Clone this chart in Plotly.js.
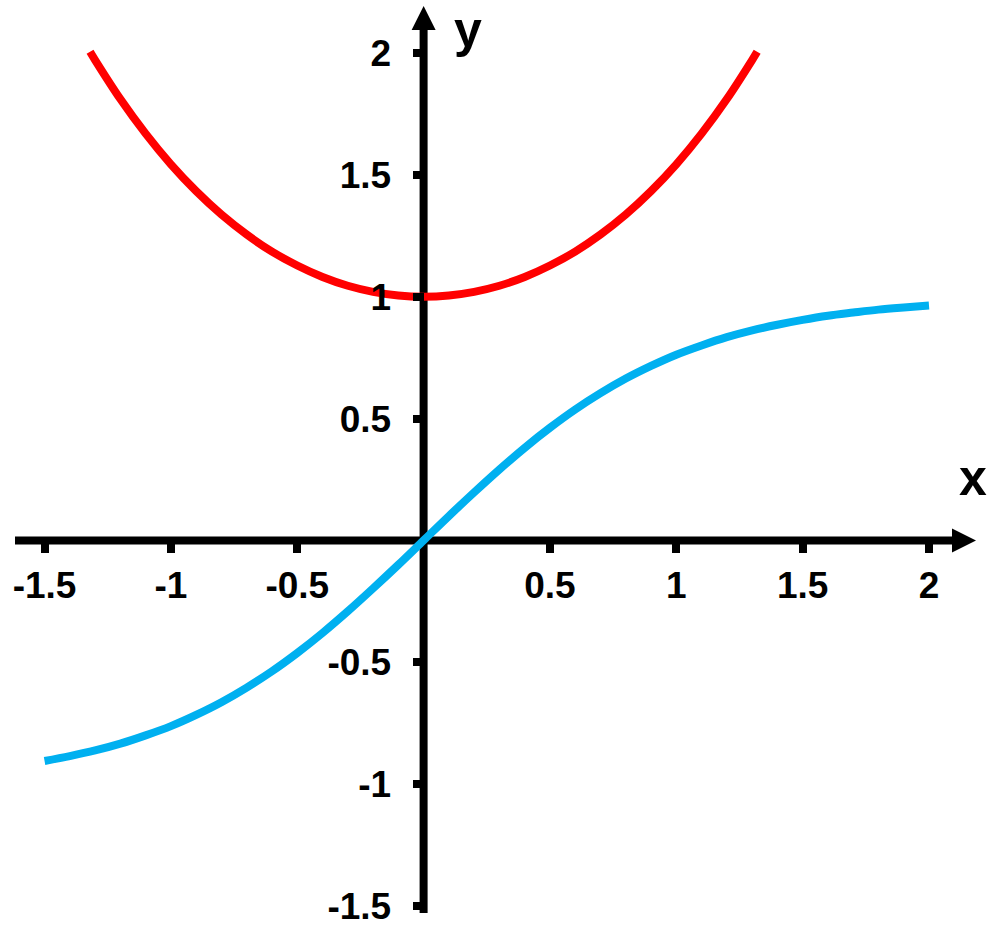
<!DOCTYPE html>
<html>
<head>
<meta charset="utf-8">
<script src="https://cdn.plot.ly/plotly-3.0.1.min.js"></script>
<style>html,body{margin:0;padding:0;background:#fff;}#chart{width:1000px;height:926px;}</style>
</head>
<body>
<div id="chart"></div>
<script>
// Red curve
const redX = [-1.32,-1.3,-1.2,-1.1,-1.0,-0.9,-0.8,-0.7,-0.6,-0.5,-0.4,-0.3,-0.2,-0.1,0,0.1,0.2,0.3,0.4,0.5,0.6,0.7,0.8,0.9,1.0,1.1,1.2,1.3,1.32];
const redY = [2.005,1.971,1.811,1.669,1.543,1.433,1.337,1.255,1.185,1.128,1.081,1.045,1.020,1.005,1.000,1.005,1.020,1.045,1.081,1.128,1.185,1.255,1.337,1.433,1.543,1.669,1.811,1.971,2.005];
// Blue curve
const blueX = [-1.5,-1.4,-1.3,-1.2,-1.1,-1.0,-0.9,-0.8,-0.7,-0.6,-0.5,-0.4,-0.3,-0.2,-0.1,0,0.1,0.2,0.3,0.4,0.5,0.6,0.7,0.8,0.9,1.0,1.1,1.2,1.3,1.4,1.5,1.6,1.7,1.8,1.9,2.0];
const blueY = [-0.905,-0.885,-0.862,-0.834,-0.800,-0.762,-0.716,-0.664,-0.604,-0.537,-0.462,-0.380,-0.291,-0.197,-0.100,0,0.100,0.197,0.291,0.380,0.462,0.537,0.604,0.664,0.716,0.762,0.800,0.834,0.862,0.885,0.905,0.922,0.935,0.947,0.956,0.964];
// Tick labels
const xTickVals = [-1.5,-1,-0.5,0.5,1,1.5,2];
const xTickText = ['-1.5','-1','-0.5','0.5','1','1.5','2'];
const yTickVals = [-1.5,-1,-0.5,0.5,1,1.5,2];
const yTickText = ['-1.5','-1','-0.5','0.5','1','1.5','2'];

const W = 1000, H = 926;
const X0PX = 423.6, XUNIT = 252.7, Y0PX = 540.4, YUNIT = 243.7;
const X = px => (px - X0PX) / XUNIT;
const Y = py => (Y0PX - py) / YUNIT;

const font = {family: 'Liberation Sans, Arial, sans-serif', size: 37, color: '#000', weight: 700};

const traces = [
  {x: redX, y: redY, mode: 'lines', line: {color: '#ff0000', width: 8, shape: 'spline', smoothing: 1}, hoverinfo: 'skip'},
  {x: blueX, y: blueY, mode: 'lines', line: {color: '#00b0f0', width: 8, shape: 'spline', smoothing: 1}, hoverinfo: 'skip'}
];

const shapes = [
  {type: 'line', xref: 'x', yref: 'y', x0: X(15), x1: X(955), y0: 0, y1: 0, line: {color: '#000', width: 8}, layer: 'below'},
  {type: 'line', xref: 'x', yref: 'y', x0: 0, x1: 0, y0: Y(913), y1: Y(28), line: {color: '#000', width: 8}, layer: 'below'},
  {type: 'path', xref: 'x', yref: 'y', layer: 'below', fillcolor: '#000', line: {width: 0},
   path: `M${X(952)},${Y(Y0PX-12)} L${X(976)},0 L${X(952)},${Y(Y0PX+12)} Z`},
  {type: 'path', xref: 'x', yref: 'y', layer: 'below', fillcolor: '#000', line: {width: 0},
   path: `M${X(X0PX-12)},${Y(30)} L0,${Y(6)} L${X(X0PX+12)},${Y(30)} Z`}
];

const layout = {
  width: W, height: H,
  margin: {l: 0, r: 0, t: 0, b: 0, pad: 0},
  paper_bgcolor: '#fff', plot_bgcolor: '#fff',
  showlegend: false,
  xaxis: {range: [X(0), X(W)], anchor: 'free', position: (H - Y0PX) / H,
    showgrid: false, zeroline: false, showline: false,
    ticks: 'outside', ticklen: 12, tickwidth: 8, tickcolor: '#000',
    tickvals: xTickVals, ticktext: xTickText, tickfont: font, ticklabelstandoff: 0,
    ticklabeloverflow: 'allow'},
  yaxis: {range: [Y(H), Y(0)], anchor: 'free', position: X0PX / W,
    showgrid: false, zeroline: false, showline: false,
    ticks: 'outside', ticklen: 11, tickwidth: 8, tickcolor: '#000',
    tickvals: yTickVals, ticktext: yTickText, tickfont: font, ticklabelstandoff: 14,
    ticklabeloverflow: 'allow'},
  shapes: shapes,
  annotations: [
    {xref: 'paper', yref: 'paper', x: 468 / W, y: 1 - 30 / H, text: 'y', showarrow: false,
     font: {family: 'Liberation Sans, Arial, sans-serif', size: 50, color: '#000', weight: 700}, xanchor: 'center', yanchor: 'middle'},
    {xref: 'paper', yref: 'paper', x: 973 / W, y: 1 - 478 / H, text: 'x', showarrow: false,
     font: {family: 'Liberation Sans, Arial, sans-serif', size: 50, color: '#000', weight: 700}, xanchor: 'center', yanchor: 'middle'}
  ]
};

Plotly.newPlot('chart', traces, layout, {staticPlot: true, displayModeBar: false});
</script>
</body>
</html>
